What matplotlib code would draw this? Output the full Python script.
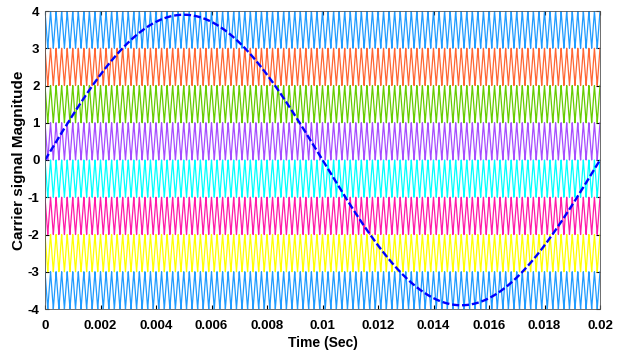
import numpy as np
import matplotlib
matplotlib.use("Agg")
import matplotlib.pyplot as plt

# carrier setup
f_ref = 50.0          # reference sine, Hz
f_car = 5000.0        # carrier, Hz
amp_ref = 3.9
band_lows = [3, 2, 1, 0, -1, -2, -3, -4]
band_colors = ['#1f9bff', '#ff6633', '#66cc00', '#a64dff',
               '#00ffff', '#ff1aa8', '#ffff00', '#1f9bff']
xticks = [0, 0.002, 0.004, 0.006, 0.008, 0.01, 0.012, 0.014, 0.016, 0.018, 0.02]
xticklabels = ['0', '0.002', '0.004', '0.006', '0.008', '0.01', '0.012',
               '0.014', '0.016', '0.018', '0.02']
yticks = [-4, -3, -2, -1, 0, 1, 2, 3, 4]
yticklabels = ['-4', '-3', '-2', '-1', '0', '1', '2', '3', '4']

t = np.linspace(0, 0.02, 20001)
tri = 2 * np.abs((t * f_car) % 1.0 - 0.5)   # 1 -> 0 -> 1 triangle

plt.rcParams['font.family'] = 'Liberation Sans'
plt.rcParams['font.weight'] = 'bold'

fig = plt.figure(figsize=(6.26, 3.59), dpi=100)
ax = fig.add_axes([45 / 626, 1 - 309 / 359, 555 / 626, 298 / 359])

for lo, c in zip(band_lows, band_colors):
    ax.plot(t, lo + tri, color=c, linewidth=0.9)

ax.plot(t, amp_ref * np.sin(2 * np.pi * f_ref * t), color='#0000ff',
        linestyle=(0, (3, 1.2)), linewidth=1.7)

ax.set_xlim(0, 0.02)
ax.set_ylim(-4, 4)
ax.set_xticks(xticks)
ax.set_xticklabels(xticklabels)
ax.set_yticks(yticks)
ax.set_yticklabels(yticklabels)
ax.tick_params(direction='in', labelsize=9.5, length=3, top=True, right=True)
ax.tick_params(axis='x', pad=8)
ax.tick_params(axis='y', pad=4)
for lab in ax.get_xticklabels() + ax.get_yticklabels():
    lab.set_fontweight('bold')
for s in ax.spines.values():
    s.set_linewidth(0.6)
    s.set_color('#555555')

ax.set_xlabel('Time (Sec)', fontsize=10, fontweight='bold', labelpad=3)
ax.set_ylabel('Carrier signal Magnitude', fontsize=11, fontweight='bold',
              labelpad=1)

fig.savefig('out.png', dpi=100)
